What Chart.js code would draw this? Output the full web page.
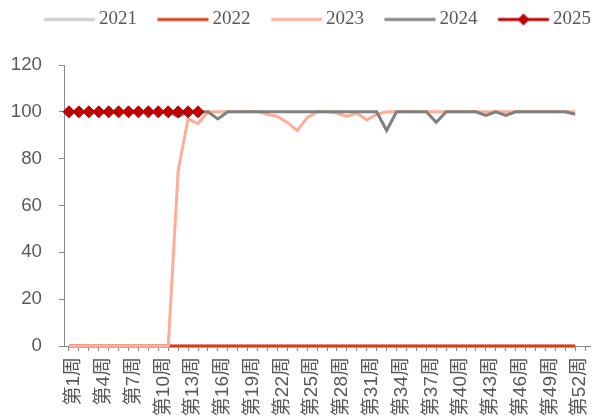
<!DOCTYPE html>
<html>
<head>
<meta charset="utf-8">
<script src="https://cdn.jsdelivr.net/npm/chart.js@4.4.1/dist/chart.umd.min.js"></script>
<style>
  html, body { margin: 0; padding: 0; background: #fff; overflow: hidden; }
  #wrap { width: 614px; height: 418px; }
</style>
</head>
<body>
<div id="wrap"><canvas id="chart"></canvas></div>
<script>
// ======================== DATA ========================

const weeks = [
  "第1周", "第2周", "第3周", "第4周", "第5周", "第6周", "第7周", "第8周", "第9周", "第10周",
  "第11周", "第12周", "第13周", "第14周", "第15周", "第16周", "第17周", "第18周", "第19周", "第20周",
  "第21周", "第22周", "第23周", "第24周", "第25周", "第26周", "第27周", "第28周", "第29周", "第30周",
  "第31周", "第32周", "第33周", "第34周", "第35周", "第36周", "第37周", "第38周", "第39周", "第40周",
  "第41周", "第42周", "第43周", "第44周", "第45周", "第46周", "第47周", "第48周", "第49周", "第50周",
  "第51周", "第52周", "第53周"
];

const yearNames = ["2021", "2022", "2023", "2024", "2025"];
const yearColors = ["#C9C9C9", "#DE3C12", "#FFAD99", "#808080", "#C00000"];

const y2021 = [
  0, 0, 0, 0, 0, 0, 0, 0, 0, 0, 0, 0, 0,
  0, 0, 0, 0, 0, 0, 0, 0, 0, 0, 0, 0, 0,
  0, 0, 0, 0, 0, 0, 0, 0, 0, 0, 0, 0, 0,
  0, 0, 0, 0, 0, 0, 0, 0, 0, 0, 0, 0, 0
];

const y2022 = [
  0, 0, 0, 0, 0, 0, 0, 0, 0, 0, 0, 0, 0,
  0, 0, 0, 0, 0, 0, 0, 0, 0, 0, 0, 0, 0,
  0, 0, 0, 0, 0, 0, 0, 0, 0, 0, 0, 0, 0,
  0, 0, 0, 0, 0, 0, 0, 0, 0, 0, 0, 0, 0
];

const y2023 = [
  0, 0, 0, 0, 0, 0, 0, 0, 0, 0, 0, 75, 97,
  95, 100, 100, 100, 100, 100, 100, 99, 98, 95.5, 92, 97.5, 100,
  100, 99.5, 98, 99.5, 96.5, 99, 100, 100, 100, 100, 100, 100, 100,
  100, 100, 100, 100, 100, 100, 100, 100, 100, 100, 100, 100, 100
];

const y2024 = [
  100, 100, 100, 100, 100, 100, 100, 100, 100, 100, 100, 98, 100,
  100, 100, 97, 100, 100, 100, 100, 100, 100, 100, 100, 100, 100,
  100, 100, 100, 100, 100, 100, 92, 100, 100, 100, 100, 95.5, 100,
  100, 100, 100, 98.5, 100, 98.5, 100, 100, 100, 100, 100, 100, 99
];

const y2025 = [100, 100, 100, 100, 100, 100, 100, 100, 100, 100, 100, 100, 100, 100];

const yMin = 0;
const yMax = 120;
const yStep = 20;

// ======================== HELPERS ========================

// legend icon: short line, optional diamond marker
function legendIcon(color, withMarker) {
  const c = document.createElement("canvas");
  c.width = 70;
  c.height = 14;
  const ctx = c.getContext("2d");
  ctx.strokeStyle = color;
  ctx.lineWidth = 3;
  ctx.beginPath();
  ctx.moveTo(17.5, 7);
  ctx.lineTo(68.5, 7);
  ctx.stroke();
  if (withMarker) {
    const cx = 43, cy = 7, r = 6;
    ctx.fillStyle = color;
    ctx.beginPath();
    ctx.moveTo(cx - r, cy);
    ctx.lineTo(cx, cy - r);
    ctx.lineTo(cx + r, cy);
    ctx.lineTo(cx, cy + r);
    ctx.closePath();
    ctx.fill();
  }
  return c;
}

function lineSet(idx, data) {
  return {
    label: yearNames[idx],
    data,
    borderColor: yearColors[idx],
    backgroundColor: yearColors[idx],
    borderWidth: 3,
    pointRadius: 0,
    pointHoverRadius: 0,
    tension: 0,
    clip: false
  };
}

// extra room under the legend, and nudge it right a little
const legendTweak = {
  id: "legendTweak",
  beforeInit(chart) {
    const origFit = chart.legend.fit;
    chart.legend.fit = function () {
      origFit.bind(chart.legend)();
      this.height += 26;
    };
  },
  afterLayout(chart) {
    chart.legend.left += 8.25;
    chart.legend.right += 8.25;
  }
};

// ======================== CHART ========================

const set2025 = lineSet(4, y2025);
set2025.pointStyle = "rectRot";
set2025.pointRadius = 6;
set2025.pointBorderWidth = 1;

// reverse order so 2025 is drawn on top
const datasets = [
  set2025,
  lineSet(3, y2024),
  lineSet(2, y2023),
  lineSet(1, y2022),
  lineSet(0, y2021)
];

new Chart(document.getElementById("chart"), {
  type: "line",
  data: { labels: weeks, datasets },
  options: {
    responsive: true,
    maintainAspectRatio: false,
    animation: false,
    layout: { padding: { left: 0, right: 6, top: 0, bottom: 0 } },
    plugins: {
      tooltip: { enabled: false },
      legend: {
        position: "top",
        reverse: true,
        labels: {
          usePointStyle: true,
          pointStyleWidth: 56,
          padding: 10,
          color: "#595959",
          font: { family: "'Liberation Serif', 'Times New Roman', serif", size: 19 },
          generateLabels(chart) {
            const items = Chart.defaults.plugins.legend.labels.generateLabels(chart);
            items.forEach((item) => {
              const i = yearNames.indexOf(item.text);
              item.pointStyle = legendIcon(yearColors[i], item.text === "2025");
            });
            return items;
          }
        }
      }
    },
    scales: {
      x: {
        offset: true,
        grid: {
          offset: false,
          drawOnChartArea: false,
          drawTicks: true,
          tickLength: 5,
          color: "#888888"
        },
        border: { color: "#888888", width: 1 },
        ticks: {
          autoSkip: false,
          minRotation: 90,
          maxRotation: 90,
          padding: 6,
          labelOffset: 5,
          color: "#595959",
          font: { family: "'Liberation Sans', 'Noto Sans CJK SC', sans-serif", size: 19 },
          callback(value, index) {
            return index % 3 === 0 ? weeks[index] : "";
          }
        },
        afterFit(scale) { scale.height = 72; }
      },
      y: {
        min: yMin,
        max: yMax,
        grid: {
          drawOnChartArea: false,
          drawTicks: true,
          tickLength: 5,
          color: "#888888"
        },
        border: { color: "#888888", width: 1 },
        ticks: {
          stepSize: yStep,
          padding: 17,
          color: "#595959",
          font: { family: "'Liberation Sans', Arial, sans-serif", size: 18.7 }
        },
        afterFit(scale) { scale.width = 64; }
      }
    }
  },
  plugins: [legendTweak]
});
</script>
</body>
</html>
